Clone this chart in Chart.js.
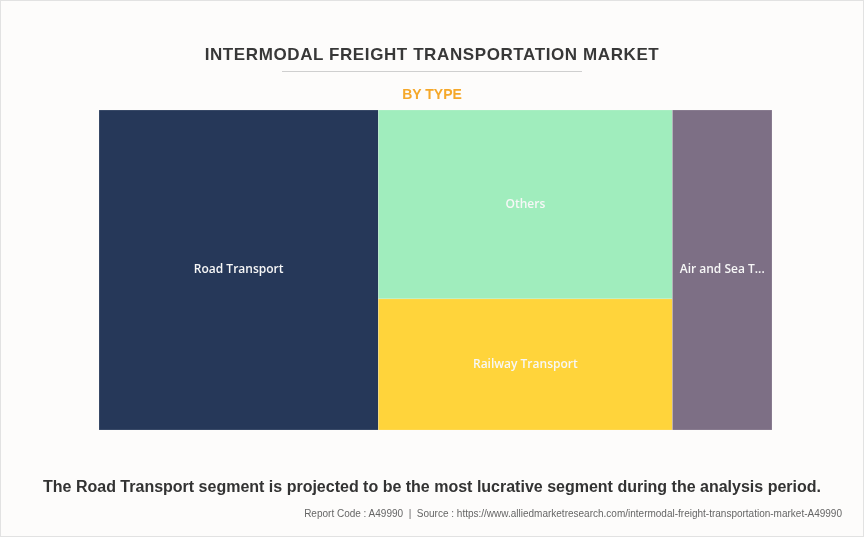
<!DOCTYPE html>
<html>
<head>
<meta charset="utf-8">
<script src="https://cdn.jsdelivr.net/npm/chart.js@4.4.1/dist/chart.umd.min.js"></script>
<style>
  html, body { margin: 0; padding: 0; }
  body { width: 864px; height: 537px; background: #fdfcfb; position: relative; overflow: hidden; font-family: "Liberation Sans", Arial, sans-serif; }
  #frame { position: absolute; left: 0; top: 0; width: 862px; height: 535px; border: 1px solid #e2e2e2; }
  #c { position: absolute; left: 0; top: 0; }
  .t { position: absolute; left: 0; width: 864px; text-align: center; white-space: nowrap; }
  #title { top: 45px; font-size: 17px; font-weight: bold; color: #383838; letter-spacing: 0.6px; }
  #rule { position: absolute; left: 282px; top: 71px; width: 300px; height: 1px; background: #cfcfcf; }
  #sub { top: 86px; font-size: 14px; font-weight: bold; color: #f5a82a; }
  #note { top: 478px; font-size: 16px; font-weight: bold; color: #333; }
  #src { position: absolute; right: 22px; top: 508px; font-size: 10px; color: #666; white-space: nowrap; }
</style>
</head>
<body>
<div id="frame"></div>
<canvas id="c" width="864" height="537"></canvas>
<div class="t" id="title">INTERMODAL FREIGHT TRANSPORTATION MARKET</div>
<div id="rule"></div>
<div class="t" id="sub">BY TYPE</div>
<div class="t" id="note">The Road Transport segment is projected to be the most lucrative segment during the analysis period.</div>
<div id="src">Report Code : A49990 &nbsp;|&nbsp; Source : https://www.alliedmarketresearch.com/intermodal-freight-transportation-market-A49990</div>
<script>
// ---- data ----
const categories = ['Road Transport', 'Others', 'Railway Transport', 'Air and Sea Transport'];
const shares = [41.5, 25.8, 17.9, 14.8];
const colors = ['#263859', '#a0edbd', '#ffd43b', '#7d6f85'];
// column grouping of the treemap (indices into categories)
const columns = [[0], [1, 2], [3]];

const total = shares.reduce((a, b) => a + b, 0);

// build treemap cells in data units (x: 0..total, y: 0..1)
function buildCells() {
  const cells = [];
  let x0 = 0;
  columns.forEach(col => {
    const colSum = col.reduce((a, i) => a + shares[i], 0);
    let y0 = 1;
    col.forEach(i => {
      const h = shares[i] / colSum;
      cells.push({ i, x0, x1: x0 + colSum, y0: y0 - h, y1: y0 });
      y0 -= h;
    });
    x0 += colSum;
  });
  return cells;
}

const treemapPlugin = {
  id: 'treemapCells',
  afterDatasetsDraw(chart) {
    const { ctx, scales: { x, y } } = chart;
    const cells = buildCells();
    ctx.save();
    cells.forEach(c => {
      const l = x.getPixelForValue(c.x0), r = x.getPixelForValue(c.x1);
      const t = y.getPixelForValue(c.y1), b = y.getPixelForValue(c.y0);
      ctx.fillStyle = colors[c.i];
      ctx.fillRect(l, t, r - l, b - t);
      ctx.strokeStyle = 'rgba(255,255,255,0.35)';
      ctx.lineWidth = 0.5;
      ctx.strokeRect(l, t, r - l, b - t);
    });
    ctx.font = '600 12px "Open Sans", sans-serif';
    ctx.fillStyle = '#f7f7f7';
    ctx.textAlign = 'center';
    ctx.textBaseline = 'middle';
    cells.forEach(c => {
      const l = x.getPixelForValue(c.x0), r = x.getPixelForValue(c.x1);
      const t = y.getPixelForValue(c.y1), b = y.getPixelForValue(c.y0);
      let label = categories[c.i];
      const maxW = (r - l) - 10;
      if (ctx.measureText(label).width > maxW) {
        while (label.length > 1 && ctx.measureText(label + '...').width > maxW) label = label.slice(0, -1);
        label = label.trimEnd() + '...';
      }
      ctx.fillText(label, (l + r) / 2, (t + b) / 2);
    });
    ctx.restore();
  }
};

new Chart(document.getElementById('c'), {
  type: 'scatter',
  data: { datasets: [{ data: categories.map(() => ({ x: 0, y: 0 })), pointRadius: 0, showLine: false }] },
  options: {
    responsive: false,
    animation: false,
    events: [],
    layout: { padding: { left: 99, right: 92, top: 110, bottom: 107 } },
    plugins: { legend: { display: false }, tooltip: { enabled: false }, title: { display: false } },
    scales: {
      x: { type: 'linear', min: 0, max: total, display: false },
      y: { type: 'linear', min: 0, max: 1, display: false }
    }
  },
  plugins: [treemapPlugin]
});
</script>
</body>
</html>
